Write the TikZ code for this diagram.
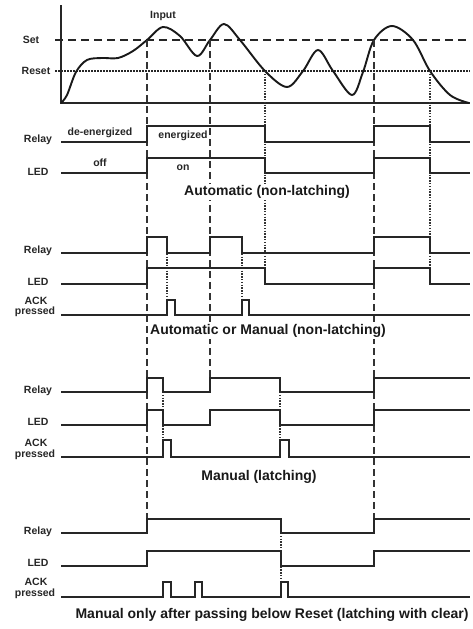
\documentclass[tikz,border=0pt]{standalone}
\usepackage{fontspec}
\setmainfont{Liberation Sans}

\begin{document}
\begin{tikzpicture}[x=1pt,y=-1pt,
  sig/.style={line width=1.5pt,black!85},
  axis/.style={line width=1.3pt,black!85},
  setline/.style={line width=1.3pt,black!85,dash pattern=on 8pt off 5pt},
  resetline/.style={line width=1.3pt,black!85,dash pattern=on 1.5pt off 1.5pt},
  guide/.style={line width=1.1pt,black!80,dash pattern=on 7pt off 4pt},
  dotguide/.style={line width=1.1pt,black!80,dash pattern=on 1.3pt off 1.5pt},
  lbl/.style={font=\fontsize{10.5}{12}\selectfont\bfseries,text=black!85,fill=white,inner sep=0.5pt},
  mode/.style={font=\fontsize{14}{16}\selectfont\bfseries,text=black!90,fill=white,inner sep=1pt}]
\useasboundingbox (0,0) rectangle (472,629);

% input with Set / Reset levels
\draw[axis] (61,5) -- (61,103) -- (470,103);
\draw[setline] (55,40) -- (470,40);
\draw[resetline] (55,71) -- (470,71);
\draw[line width=1.9pt,black!90] plot[smooth,tension=0.55] coordinates {
  (61,103) (67,95) (76,72) (87,60) (102,58) (118,58) (133,51) (147,40)
  (163,27) (180,36) (197,56) (210,40) (224,24) (240,40) (265,71) (287,87)
  (303,71) (318,50) (333,71) (352,95) (363,72) (374,40) (392,26) (413,40)
  (430,71) (450,95) (469,103)};
\node[lbl] (setlbl) at (31,40) {Set};
\node[lbl] (resetlbl) at (36,71) {Reset};
\node[lbl] (inputlbl) at (163,16) {Input};

% guide lines
\draw[guide] (147,40) -- (147,519);
\draw[guide] (210,40) -- (210,378);
\draw[guide] (374,40) -- (374,519);
\draw[dotguide] (265,71) -- (265,284);
\draw[dotguide] (430,71) -- (430,284);
\draw[dotguide] (167,237) -- (167,300);
\draw[dotguide] (242,237) -- (242,300);
\draw[dotguide] (163,378) -- (163,440);
\draw[dotguide] (280,378) -- (280,440);
\draw[dotguide] (281,519) -- (281,582);

% automatic (non-latching)
\node[lbl] (relayA) at (38,140) {Relay};
\node[lbl] (ledA) at (38,172) {LED};
\node[lbl] (deenA) at (100,133) {de-energized};
\node[lbl] (enA) at (183,136) {energized};
\node[lbl] (offA) at (100,163) {off};
\node[lbl] (onA) at (183,168) {on};
\draw[sig] (61,142) -- (147,142) -- (147,126) -- (265,126) -- (265,142) -- (374,142)
  -- (374,126) -- (430,126) -- (430,142) -- (470,142);
\draw[sig] (61,173) -- (147,173) -- (147,158) -- (265,158) -- (265,173) -- (374,173)
  -- (374,158) -- (430,158) -- (430,173) -- (470,173);
\node[mode] (modeA) at (267,192) {Automatic (non-latching)};

% automatic or manual (non-latching)
\node[lbl] (relayB) at (38,251) {Relay};
\node[lbl] (ledB) at (38,282) {LED};
\node[lbl] (ackB) at (36,301) {ACK};
\node[lbl] (presB) at (35,312) {pressed};
\draw[sig] (61,253) -- (147,253) -- (147,237) -- (167,237) -- (167,253) -- (210,253)
  -- (210,237) -- (242,237) -- (242,253) -- (374,253) -- (374,237) -- (430,237)
  -- (430,253) -- (470,253);
\draw[sig] (61,284) -- (147,284) -- (147,268) -- (265,268) -- (265,284) -- (374,284)
  -- (374,268) -- (430,268) -- (430,284) -- (470,284);
\draw[sig] (61,315) -- (167,315) -- (167,300) -- (175,300) -- (175,315) -- (242,315)
  -- (242,300) -- (249,300) -- (249,315) -- (470,315);
\node[mode] (modeB) at (268,331) {Automatic or Manual (non-latching)};

% manual (latching)
\node[lbl] (relayC) at (38,391) {Relay};
\node[lbl] (ledC) at (38,422) {LED};
\node[lbl] (ackC) at (36,443) {ACK};
\node[lbl] (presC) at (35,455) {pressed};
\draw[sig] (61,392) -- (147,392) -- (147,378) -- (163,378) -- (163,392) -- (210,392)
  -- (210,378) -- (280,378) -- (280,392) -- (374,392) -- (374,378) -- (470,378);
\draw[sig] (61,425) -- (147,425) -- (147,410) -- (163,410) -- (163,425) -- (210,425)
  -- (210,410) -- (280,410) -- (280,425) -- (374,425) -- (374,410) -- (470,410);
\draw[sig] (61,457) -- (163,457) -- (163,440) -- (171,440) -- (171,457) -- (280,457)
  -- (280,440) -- (289,440) -- (289,457) -- (470,457);
\node[mode] (modeC) at (259,477) {Manual (latching)};

% manual only after passing below reset
\node[lbl] (relayD) at (38,532) {Relay};
\node[lbl] (ledD) at (38,563) {LED};
\node[lbl] (ackD) at (36,582) {ACK};
\node[lbl] (presD) at (35,594) {pressed};
\draw[sig] (61,533) -- (147,533) -- (147,519) -- (281,519) -- (281,533) -- (374,533)
  -- (374,519) -- (470,519);
\draw[sig] (61,566) -- (147,566) -- (147,551) -- (281,551) -- (281,566) -- (374,566)
  -- (374,551) -- (470,551);
\draw[sig] (61,597) -- (163,597) -- (163,582) -- (171,582) -- (171,597) -- (195,597)
  -- (195,582) -- (202,582) -- (202,597) -- (281,597) -- (281,582) -- (288,582)
  -- (288,597) -- (470,597);
\node[mode] (modeD) at (272,615) {Manual only after passing below Reset (latching with clear)};
\end{tikzpicture}
\end{document}
